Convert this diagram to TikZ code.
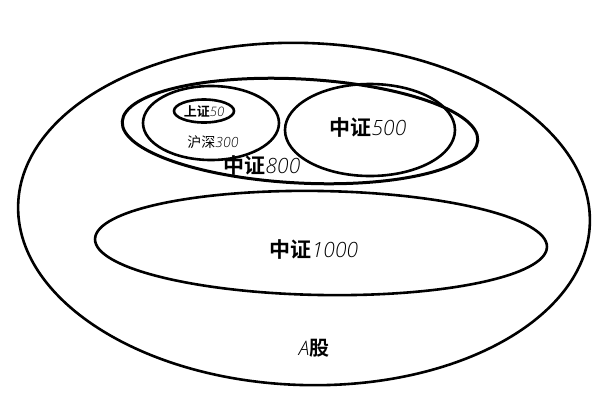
\documentclass[tikz,border=0pt]{standalone}
\usepackage{fontspec}
\newfontfamily\cjk{Noto Sans CJK SC}[BoldFont={* Bold}]
\newfontfamily\digits{Open Sans Light Italic}
\begin{document}
\begin{tikzpicture}[x=1pt,y=-1pt,
  ring/.style={line width=2.6pt, draw=black},
  lab/.style={inner sep=0pt, text=black}]
\useasboundingbox (0,0) rectangle (600,400);
\fill[white] (0,0) rectangle (600,400);
% outer: A股
\draw[ring, rotate around={-2:(304,214)}] (304,214) ellipse [x radius=286, y radius=171];
% 中证800
\draw[ring, line width=3pt, rotate around={-3:(300,131)}] (300,131) ellipse [x radius=178, y radius=52];
% 沪深300
\draw[ring] (211,123) ellipse [x radius=68, y radius=37];
% 上证50
\draw[ring] (204,111) ellipse [x radius=30, y radius=11.5];
% 中证500
\draw[ring] (370,130) ellipse [x radius=85, y radius=46];
% 中证1000
\draw[ring, rotate around={-1:(321,243)}] (321,243) ellipse [x radius=226, y radius=52];
% labels
\node[lab] (l50) at (204,112) {\fontsize{13}{14}\selectfont{\cjk\bfseries 上证}{\digits 50}};
\node[lab] (l300) at (213,142) {\fontsize{14}{15}\selectfont{\cjk 沪深}{\digits 300}};
\node[lab] (l800) at (262,166) {\fontsize{21}{23}\selectfont{\cjk\bfseries 中证}{\digits 800}};
\node[lab] (l500) at (368,128) {\fontsize{21}{23}\selectfont{\cjk\bfseries 中证}{\digits 500}};
\node[lab] (l1000) at (314,250) {\fontsize{21}{23}\selectfont{\cjk\bfseries 中证}{\digits 1000}};
\node[lab] (lA) at (314,348) {\fontsize{20}{22}\selectfont{\digits A}{\cjk\bfseries 股}};
\end{tikzpicture}
\end{document}
